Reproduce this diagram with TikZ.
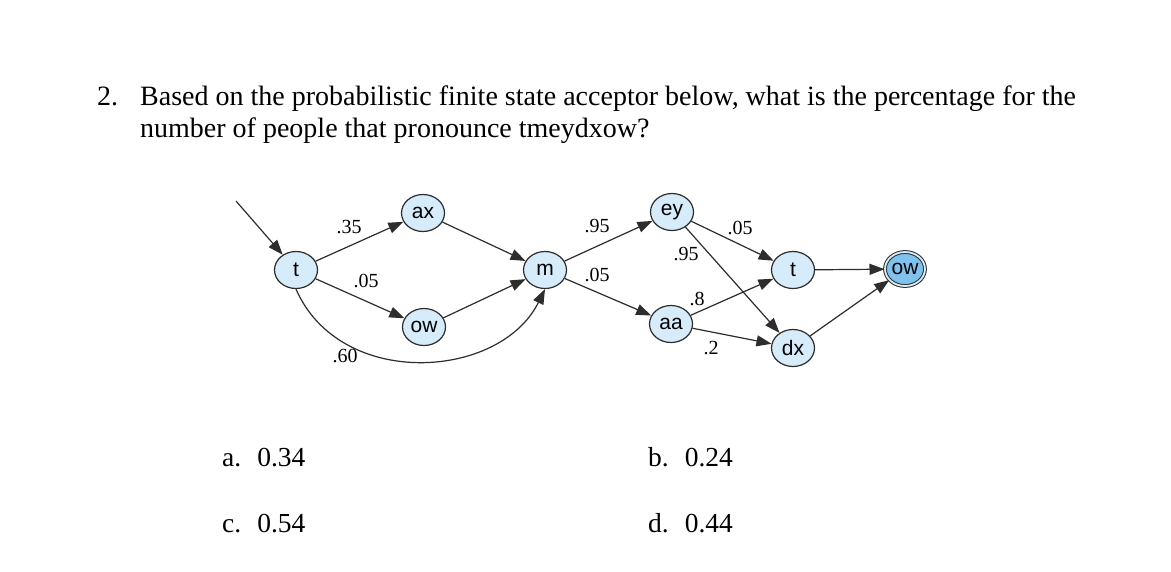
\documentclass[tikz,border=0pt]{standalone}
\usepackage{fontspec}
\setmainfont{Liberation Serif}
\newfontfamily\nodefont{Liberation Sans}
\usetikzlibrary{arrows.meta,shapes.geometric}
\definecolor{nodefill}{RGB}{214,236,250}
\definecolor{finalfill}{RGB}{128,194,238}
\definecolor{linegray}{RGB}{45,45,45}
\tikzset{
  state/.style={ellipse,draw=linegray,line width=1.2pt,fill=nodefill,minimum width=43pt,minimum height=37pt,inner sep=0pt,font=\nodefont\fontsize{21}{21}\selectfont},
  finalstate/.style={state,fill=finalfill,double=nodefill,double distance=1.8pt,line width=1pt,minimum width=40pt,minimum height=34pt},
  edge/.style={draw=linegray,line width=1.2pt,-{Triangle[length=15pt,width=11pt]}},
  lbl/.style={font=\fontsize{20}{20}\selectfont,inner sep=0pt},
  qtext/.style={anchor=base west,inner sep=0pt,font=\fontsize{28}{28}\selectfont},
  anstext/.style={anchor=base west,inner sep=0pt,font=\fontsize{27.5}{27.5}\selectfont}
}
\begin{document}
\begin{tikzpicture}[x=1pt,y=-1pt]
\useasboundingbox (0,0) rectangle (1171,571);
\fill[white] (0,0) rectangle (1171,571);
% question
\node[qtext] (qnum) at (97,105) {2.};
\node[qtext] (q1) at (140,105) {Based on the probabilistic finite state acceptor below, what is the percentage for the};
\node[qtext] (q2) at (140,137) {number of people that pronounce tmeydxow?};
% states
\node[state] (t1) at (296,270) {t};
\node[state] (ax) at (423,213) {ax};
\node[state] (ow1) at (424,327) {ow};
\node[state] (m) at (545,270) {m};
\node[state] (ey) at (672,212) {ey};
\node[state] (aa) at (671,324) {aa};
\node[state] (t2) at (793,270) {t};
\node[state] (dx) at (793,348) {dx};
\node[finalstate] (ow2) at (905,269) {ow};
\coordinate (start) at (236,201);
% edges
\draw[edge] (start) -- (t1);
\draw[edge] (t1) -- (ax);
\draw[edge] (t1) -- (ow1);
\draw[edge] (t1.south) .. controls (340,390) and (500,380) .. (m.south);
\draw[edge] (ax) -- (m);
\draw[edge] (ow1) -- (m);
\draw[edge] (m) -- (ey);
\draw[edge] (m) -- (aa);
\draw[edge] (ey) -- (t2);
\draw[edge] (ey) -- (dx);
\draw[edge] (aa) -- (t2);
\draw[edge] (aa) -- (dx);
\draw[edge] (t2) -- (ow2);
\draw[edge] (dx) -- (ow2);
% labels
\node[lbl] (l1) at (349,227) {.35};
\node[lbl] (l2) at (366,281) {.05};
\node[lbl] (l3) at (345,356) {.60};
\node[lbl] (l4) at (597,226) {.95};
\node[lbl] (l5) at (597,275) {.05};
\node[lbl] (l6) at (740,228) {.05};
\node[lbl] (l7) at (686,254) {.95};
\node[lbl] (l8) at (697,299) {.8};
\node[lbl] (l9) at (711,348) {.2};
% answers
\node[anstext] (a) at (222,466) {a.\hspace{16pt}0.34};
\node[anstext] (b) at (648,466) {b.\hspace{16pt}0.24};
\node[anstext] (c) at (222,532) {c.\hspace{16pt}0.54};
\node[anstext] (d) at (648,532) {d.\hspace{16pt}0.44};
\end{tikzpicture}
\end{document}
